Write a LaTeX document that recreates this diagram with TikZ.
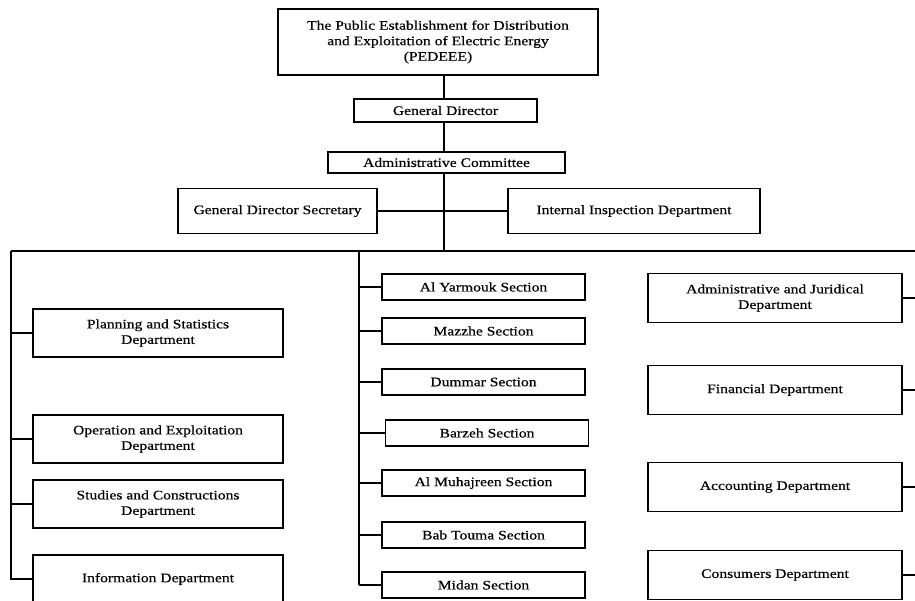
\documentclass[tikz,border=0pt]{standalone}
\usepackage{fontspec}
\setmainfont{Liberation Serif}[FakeStretch=1.2,FakeBold=0.5]
\begin{document}
\begin{tikzpicture}[x=1pt,y=-1pt,
  box/.style={draw, line width=1.5pt, align=center, inner sep=0pt, font=\fontsize{13}{15.5}\selectfont},
  link/.style={line width=2pt},
  stub/.style={line width=1.8pt}]
\useasboundingbox (0,0) rectangle (915,600);
% top chain
\node[box, minimum width=320, minimum height=66] (top) at (438,42)
  {The Public Establishment for Distribution\\and Exploitation of Electric Energy\\(PEDEEE)};
\node[box, minimum width=183, minimum height=23] (gd) at (445.5,110.5) {General Director};
\node[box, minimum width=237, minimum height=21] (ac) at (446.5,162.5) {Administrative Committee};
\node[box, minimum width=199, minimum height=45] (gds) at (277.5,211) {General Director Secretary};
\node[box, minimum width=252, minimum height=45] (iid) at (634,211) {Internal Inspection Department};
\coordinate (bus) at (444,251);
\coordinate (busL) at (11,251);
\coordinate (busR) at (915,251);
\coordinate (midtop) at (359,251);
\draw[link] (top.south -| bus) -- (gd.north -| bus);
\draw[link] (gd.south -| bus) -- (ac.north -| bus);
\draw[link] (ac.south -| bus) -- (bus);
\draw[stub] (gds.east) -- (iid.west);
\draw[link] (busL) -- (busR);
% left column
\begin{scope}[every node/.style={box, minimum width=250, minimum height=48}]
\node (pl) at (158,333) {Planning and Statistics\\Department};
\node (op) at (158,439) {Operation and Exploitation\\Department};
\node (st) at (158,504) {Studies and Constructions\\Department};
\node (in) at (158,579) {Information Department};
\end{scope}
\coordinate (leftbot) at (11,580);
\draw[link] (busL) -- (leftbot);
\foreach \n in {pl,op,st,in} \draw[stub] (\n.west -| busL) -- (\n.west);
% middle column
\begin{scope}[every node/.style={box, minimum width=203, minimum height=26}]
\node (s1) at (483.5,287) {Al Yarmouk Section};
\node (s2) at (483.5,331) {Mazzhe Section};
\node (s3) at (483.5,382) {Dummar Section};
\node (s4) at (487,433) {Barzeh Section};
\node (s5) at (483.5,483) {Al Muhajreen Section};
\node (s6) at (483.5,535) {Bab Touma Section};
\node (s7) at (483.5,585) {Midan Section};
\end{scope}
\coordinate (midbot) at (359,585);
\draw[link] (midtop) -- (midbot);
\foreach \n in {s1,s2,s3,s4,s5,s6,s7} \draw[stub] (\n.west -| midtop) -- (\n.west);
% right column
\begin{scope}[every node/.style={box, minimum width=254, minimum height=49}]
\node (r1) at (775,298) {Administrative and Juridical\\Department};
\node (r2) at (775,390) {Financial Department};
\node (r3) at (775,487) {Accounting Department};
\node (r4) at (775,575) {Consumers Department};
\end{scope}
\foreach \n in {r1,r2,r3,r4} {
  \coordinate (\n e) at (915,0);
  \draw[stub] (\n.east) -- (\n.east -| \n e);
}
\end{tikzpicture}
\end{document}
